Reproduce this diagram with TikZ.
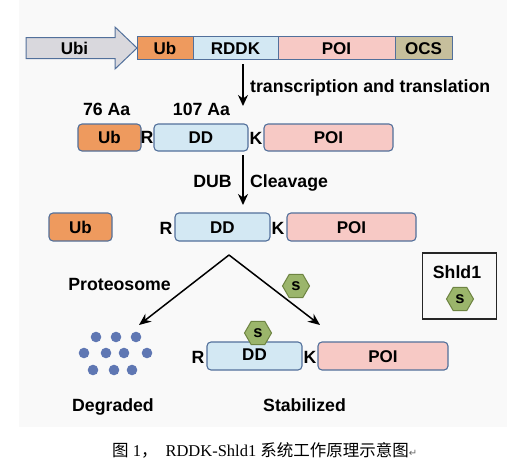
\documentclass[tikz,border=0pt]{standalone}
\usepackage{fontspec}
\setmainfont{Liberation Sans}
\newfontfamily\cjk{Noto Sans CJK SC}
\newfontfamily\capserif{Liberation Serif}
\newfontfamily\symfont{DejaVu Sans}
\usetikzlibrary{shapes.geometric,arrows.meta}
\definecolor{bgc}{HTML}{F9F9F9}
\definecolor{ubc}{HTML}{EE9A5E}
\definecolor{ddc}{HTML}{D3E8F3}
\definecolor{poic}{HTML}{F7C9C5}
\definecolor{ocsc}{HTML}{C6BF9C}
\definecolor{ubic}{HTML}{D9D8DD}
\definecolor{edgec}{HTML}{52709B}
\definecolor{hexf}{HTML}{9BB56B}
\definecolor{hexd}{HTML}{6E8442}
\definecolor{dotc}{HTML}{5F77B3}
\begin{document}
\begin{tikzpicture}[x=1pt,y=-1pt,
  lbl/.style={font=\fontsize{17.7}{17.7}\selectfont\bfseries, inner sep=0pt, text height=12.7pt, text depth=0pt},
  boxtxt/.style={font=\fontsize{17}{17}\selectfont\bfseries, text height=12.2pt, text depth=0pt},
  barbox/.style={boxtxt, draw=edgec, line width=1pt, inner sep=0pt, minimum height=23pt},
  rbox/.style={boxtxt, draw=edgec, line width=1.1pt, rounded corners=4pt, inner sep=0pt},
  hexa/.style={regular polygon, regular polygon sides=6, minimum size=27pt, inner sep=0pt,
     fill=hexf, draw=hexd, line width=1pt, font=\fontsize{16.5}{16.5}\selectfont\bfseries},
  dotn/.style={circle, fill=dotc, minimum size=10.6pt, inner sep=0pt},
  downarr/.style={line width=1.8pt, -{Stealth[length=11pt,width=10pt]}},
  vline/.style={line width=1.5pt, -{Stealth[length=12pt,width=10pt]}}
]
\useasboundingbox (0,0) rectangle (519,471);
\fill[bgc] (19,0) rectangle (507,427);

% top construct
\draw[fill=ubic, draw=edgec, line width=1pt] (26,37.5) -- (115,37.5) -- (115,27) -- (137,48) -- (115,69) -- (115,58.5) -- (26,58.5) -- cycle;
\node[boxtxt, inner sep=0pt] (ubi) at (74.5,48) {Ubi};
\node[barbox, fill=ubc, minimum width=56pt] (ub1) at (165,48) {Ub};
\node[barbox, fill=ddc, minimum width=85pt] (rddk) at (235.5,48) {RDDK};
\node[barbox, fill=poic, minimum width=117pt] (poi1) at (336.5,48) {POI};
\node[barbox, fill=ocsc, minimum width=57pt] (ocs) at (423.5,48) {OCS};

\coordinate (a1s) at (243,64);
\coordinate (a1e) at (243,106);
\draw[downarr] (a1s) -- (a1e);
\node[lbl, anchor=west] (tt) at (250,86) {transcription and translation};

% row 2
\node[lbl] (aa76) at (106.7,109.5) {76 Aa};
\node[lbl] (aa107) at (201.5,109.5) {107 Aa};
\node[rbox, fill=ubc, minimum width=63pt, minimum height=27pt] (ub2) at (109.5,137.5) {Ub};
\node[lbl] (r2) at (147,137.5) {R};
\node[rbox, fill=ddc, minimum width=94pt, minimum height=27pt] (dd2) at (201,137.5) {DD};
\node[lbl] (k2) at (256,138) {K};
\node[rbox, fill=poic, minimum width=129pt, minimum height=27pt] (poi2) at (328.5,137.5) {POI};

\coordinate (a2s) at (243,155);
\coordinate (a2e) at (243,205);
\draw[downarr] (a2s) -- (a2e);
\node[lbl] (dub) at (212.5,181) {DUB};
\node[lbl, anchor=west] (clv) at (250,181) {Cleavage};

% row 3
\node[rbox, fill=ubc, minimum width=63pt, minimum height=28pt] (ub3) at (80.5,227) {Ub};
\node[lbl] (r3) at (166,228) {R};
\node[rbox, fill=ddc, minimum width=95pt, minimum height=28pt] (dd3) at (222.5,227) {DD};
\node[lbl] (k3) at (278,228) {K};
\node[rbox, fill=poic, minimum width=129pt, minimum height=28pt] (poi3) at (351.5,227) {POI};

% branches
\coordinate (apex) at (229,255);
\coordinate (lend) at (139,325);
\coordinate (rend) at (320,325);
\draw[vline] (apex) -- (lend);
\draw[vline] (apex) -- (rend);
\node[lbl] (prot) at (119.5,284) {Proteosome};
\node[hexa] (s1) at (296,286) {s};

% Shld1 legend
\node[draw=black!85, line width=1.5pt, minimum width=74pt, minimum height=66pt, inner sep=0pt] (legend) at (459.5,286) {};
\node[lbl] (shld) at (457,272) {Shld1};
\node[hexa] (s2) at (460,299) {s};

% degraded dots
\foreach \i/\px/\py in {1/96/337,2/116/337,3/136/337,4/84/353,5/106/353,6/124/353,7/147/353,8/93/370,9/114/370,10/132/370}
  \node[dotn] (dot\i) at (\px,\py) {};

% row 4
\node[lbl] (r4) at (198,357) {R};
\node[rbox, fill=ddc, minimum width=95pt, minimum height=28pt, text height=9.5pt] (dd4) at (254.5,356) {DD};
\node[hexa] (s3) at (258,333) {s};
\node[lbl] (k4) at (310,357) {K};
\node[rbox, fill=poic, minimum width=130pt, minimum height=28pt] (poi4) at (383,356) {POI};

\node[lbl] (degr) at (113,405.5) {Degraded};
\node[lbl] (stab) at (304.5,405.5) {Stabilized};

% caption
\node[anchor=west, inner sep=0pt, font=\fontsize{16.5}{16.5}\capserif] (cap) at (112,450)
  {{\cjk 图} 1{\cjk ，}\hspace{8pt}RDDK-Shld1 {\cjk 系统工作原理示意图}{\symfont\fontsize{10}{10}\selectfont\color{black!60}↵}};
\end{tikzpicture}
\end{document}
